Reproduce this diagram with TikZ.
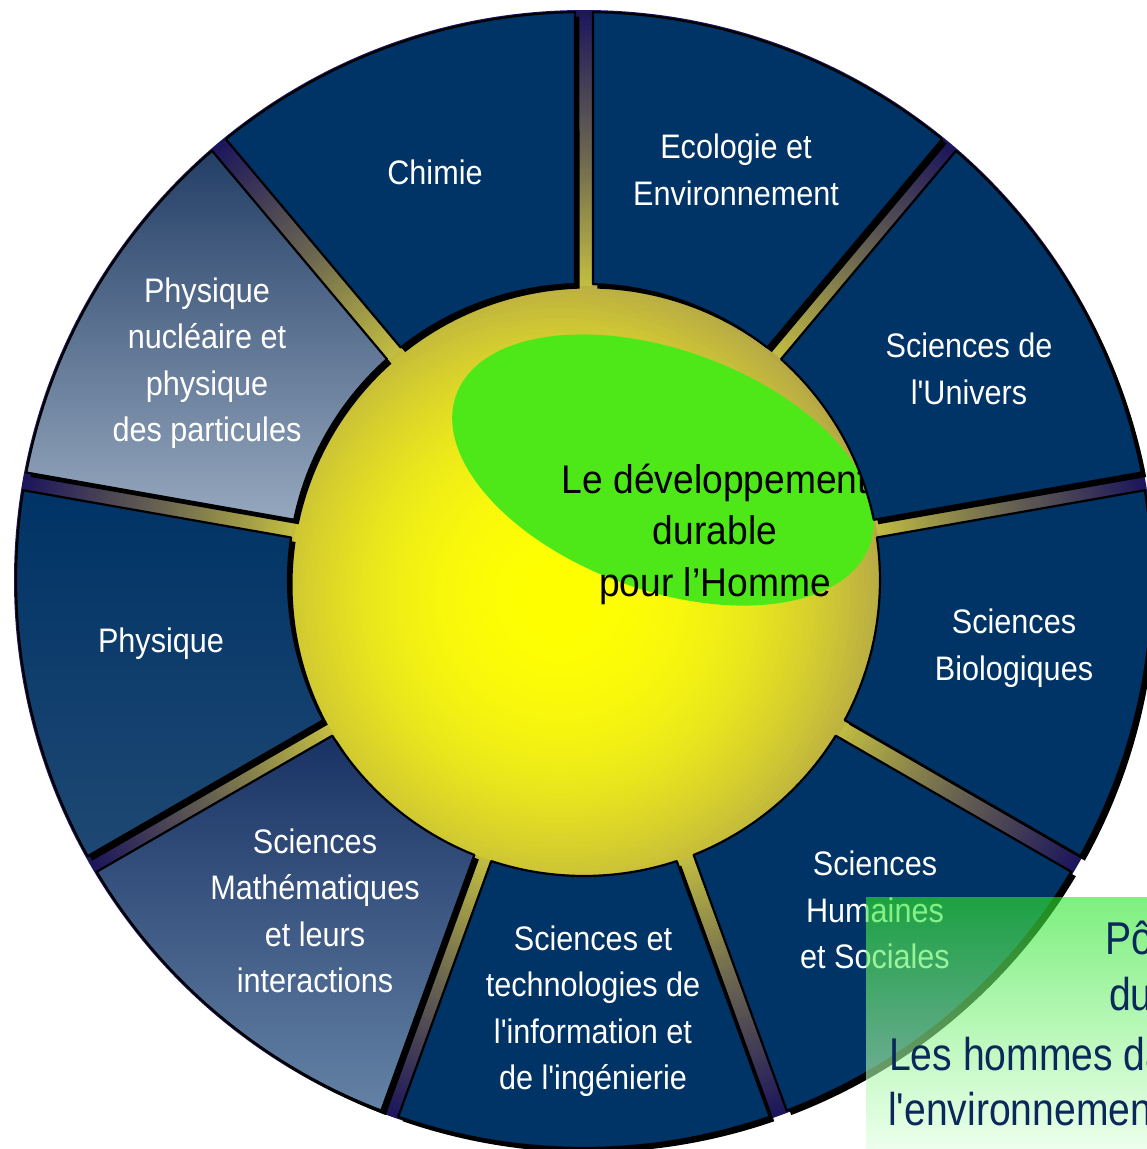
\documentclass[tikz,border=0pt]{standalone}
\usepackage{fontspec}
\setmainfont{Liberation Sans}[FakeStretch=0.9,Ligatures=TeXOff]
\newfontfamily\centerfont{Liberation Sans}[FakeStretch=0.93,Ligatures=TeXOff]
\newfontfamily\boxfont{Liberation Sans}[FakeStretch=0.85,Ligatures=TeXOff]
\definecolor{navy}{RGB}{0,51,102}
\definecolor{gapin}{RGB}{195,190,65}
\definecolor{gapmid}{RGB}{105,100,80}
\definecolor{gapout}{RGB}{28,22,92}
\definecolor{sphEdge}{RGB}{185,173,68}
\definecolor{ellgreen}{RGB}{78,232,25}
\definecolor{nucTop}{RGB}{35,62,102}
\definecolor{nucBot}{RGB}{150,168,190}
\definecolor{mathTop}{RGB}{25,50,100}
\definecolor{mathBot}{RGB}{100,130,165}
\definecolor{phyTop}{RGB}{0,51,102}
\definecolor{phyBot}{RGB}{30,72,115}
\definecolor{boxTop}{RGB}{47,230,47}
\definecolor{boxBot}{RGB}{225,255,225}
\definecolor{boxText}{RGB}{10,40,90}
\newcommand\ringsegment[3]{%
  \pgfmathsetmacro\sa{#1-1.74}\pgfmathsetmacro\sb{#1-0.91}%
  \pgfmathsetmacro\sc{#2+0.91}\pgfmathsetmacro\sd{#2+1.74}%
  \fill[black,shift={(4.5,-4.5)}] (\sa:296) -- (\sb:568) arc[start angle=\sb,end angle=\sc,radius=568] -- (\sd:296) arc[start angle=\sd,end angle=\sa,radius=296] -- cycle;
  \path[#3,draw=black,line width=2.2,line join=round] (\sa:296) -- (\sb:568) arc[start angle=\sb,end angle=\sc,radius=568] -- (\sd:296) arc[start angle=\sd,end angle=\sa,radius=296] -- cycle;
}
\tikzset{
  lbl/.style={text=white,align=center,inner sep=0pt,font=\fontsize{34}{46.5}\selectfont},
  centertxt/.style={text=black,align=center,inner sep=0pt,font=\centerfont\fontsize{40}{51.5}\selectfont},
  boxtxt/.style={text=boxText,inner sep=0pt,anchor=base west,font=\boxfont\fontsize{46}{55}\selectfont},
  plainseg/.style={fill=navy}
}
\begin{document}
\begin{tikzpicture}[x=1pt,y=1pt]
\useasboundingbox (0,0) rectangle (1147,-1149);
\clip (0,0) rectangle (1147,-1149);
\begin{scope}[shift={(584,-580)}]
  % gap background: radial gradient built from rings
  \foreach \i in {0,...,92} {
    \pgfmathsetmacro\rr{570-3*\i}
    \pgfmathtruncatemacro\tA{min(100,max(0,(570-\rr)/1.4))}
    \pgfmathtruncatemacro\tB{min(100,max(0,(430-\rr)/1.34))}
    \fill[gapin!\tB!gapmid!\tA!gapout] (0,0) circle (\rr);
  }
  % central sphere: off-centre radial gradient built from rings
  \begin{scope}
    \clip (2,-1) circle (295);
    \fill[sphEdge] (2,-1) circle (300);
    \foreach \i in {0,...,66} {
      \pgfmathsetmacro\rr{335-5*\i}
      \pgfmathsetmacro\t{\rr/320}
      \pgfmathtruncatemacro\cR{max(180,255-70*\t^2.4)}
      \pgfmathtruncatemacro\cG{max(168,255-82*\t^2.4)}
      \pgfmathtruncatemacro\cB{min(70,68*\t^1.7)}
      \definecolor{sphtmp}{RGB}{\cR,\cG,\cB}
      \fill[sphtmp] (-24,-18) circle (\rr);
    }
  \end{scope}
  % green ellipse
  \fill[ellgreen,rotate around={-20:(79,110)}] (79,110) ellipse (220 and 120);
  \node[centertxt] (centre) at (131,46) {Le développement\\durable\\pour l’Homme};
  % segments
  \ringsegment{130}{90}{plainseg}
  \ringsegment{90}{50}{plainseg}
  \ringsegment{50}{10}{plainseg}
  \ringsegment{10}{-30}{plainseg}
  \ringsegment{-30}{-70}{plainseg}
  \ringsegment{-70}{-110}{plainseg}
  \ringsegment{-110}{-150}{top color=mathTop,bottom color=mathBot}
  \ringsegment{-150}{-190}{top color=phyTop,bottom color=phyBot}
  \ringsegment{170}{130}{top color=nucTop,bottom color=nucBot}
  % labels
  \node[lbl] (chimie) at (-149,408) {Chimie};
  \node[lbl] (eco) at (152,410) {Ecologie et\\Environnement};
  \node[lbl] (univ) at (385,211) {Sciences de\\l'Univers};
  \node[lbl] (bio) at (430,-68) {Sciences\\Biologiques};
  \node[lbl] (hum) at (291,-330) {Sciences\\Humaines\\et Sociales};
  \node[lbl] (stic) at (9,-431) {Sciences et\\technologies de\\l'information et\\de l'ingénierie};
  \node[lbl] (math) at (-269,-331) {Sciences\\Mathématiques\\et leurs\\interactions};
  \node[lbl] (phys) at (-423,-64) {Physique};
  \node[lbl] (nucl) at (-377,217) {Physique\\nucléaire et\\physique\\des particules};
\end{scope}
% overlay box
\shade[top color=boxTop,bottom color=boxBot,fill opacity=0.62] (866,-897) rectangle (1147,-1149);
\node[boxtxt] (b1) at (1105,-954) {Pô};
\node[boxtxt] (b2) at (1109,-1010) {du};
\node[boxtxt] (b3) at (889,-1070) {Les hommes da};
\node[boxtxt] (b4) at (888,-1125) {l'environnement};
\end{tikzpicture}
\end{document}
